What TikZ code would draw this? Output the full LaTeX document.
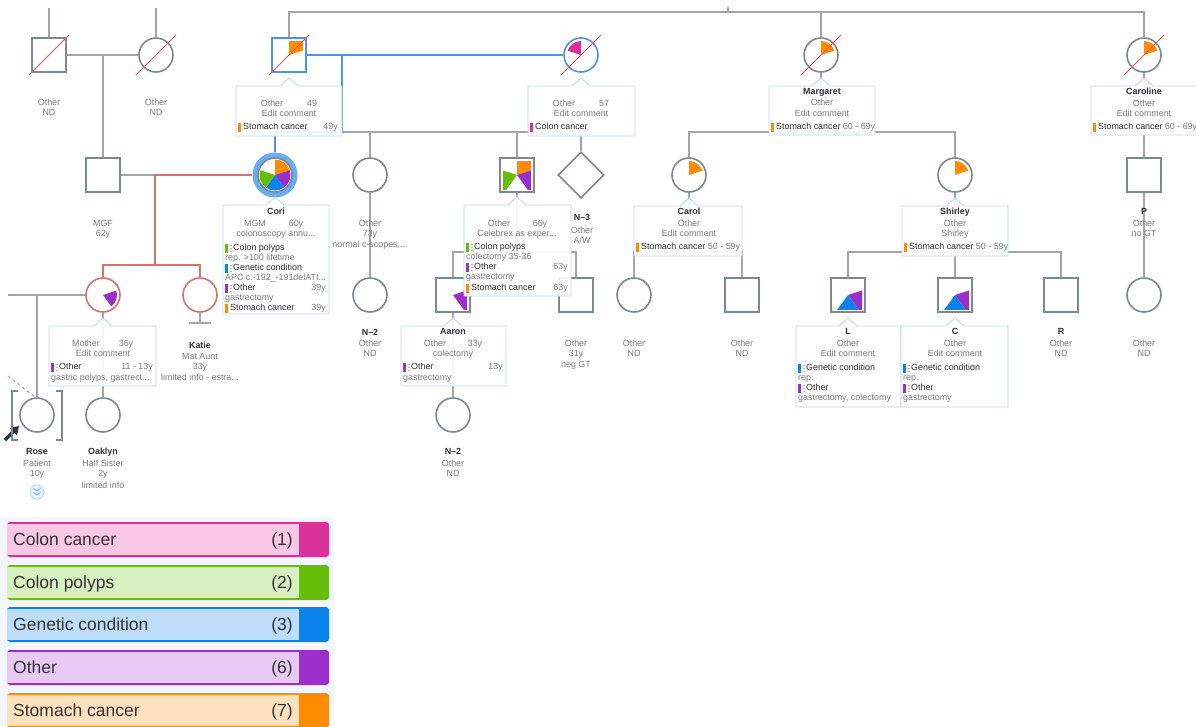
\documentclass[tikz,border=0pt]{standalone}
\usepackage{fontspec}
\setmainfont{Liberation Sans}
\usetikzlibrary{shapes.geometric,arrows.meta}
\definecolor{lnC}{HTML}{A2A6AA}
\definecolor{shC}{HTML}{7B8990}
\definecolor{redC}{HTML}{D9726A}
\definecolor{bluC}{HTML}{4C94E6}
\definecolor{haloC}{HTML}{68ADF0}
\definecolor{boxC}{HTML}{B9D9F3}
\definecolor{grayT}{HTML}{7A7A7A}
\definecolor{darkT}{HTML}{2E2E2E}
\definecolor{legT}{HTML}{333333}
\definecolor{strkC}{HTML}{FF4F4F}
\definecolor{icoC}{HTML}{B8B8B8}
\definecolor{arrC}{HTML}{2C373D}
\definecolor{ccC}{HTML}{DB3199}\definecolor{ccL}{HTML}{F7C7E5}
\definecolor{cpC}{HTML}{67BE0A}\definecolor{cpL}{HTML}{D8EFC1}
\definecolor{cgC}{HTML}{0A84EC}\definecolor{cgL}{HTML}{BEDDF8}
\definecolor{coC}{HTML}{9B2FCB}\definecolor{coL}{HTML}{E7C9F3}
\definecolor{csC}{HTML}{FF8C00}\definecolor{csL}{HTML}{FFE1BF}
\definecolor{legBG}{HTML}{F3F6FA}
\tikzset{
 conn/.style={draw=lnC, line width=1.4pt},
 redl/.style={draw=redC, line width=2.6pt},
 bluel/.style={draw=bluC, line width=2.6pt},
 sqs/.style={rectangle, draw=shC, line width=1.6pt, fill=white, minimum size=34pt, inner sep=0pt},
 cis/.style={circle, draw=shC, line width=1.6pt, fill=white, minimum size=34pt, inner sep=0pt},
 strike/.style={draw=strkC, line width=1pt},
 tipbox/.style={draw=boxC, line width=0.9pt, fill=white, fill opacity=0.9},
 tx/.style={font=\fontsize{8.9}{10}\selectfont, text=grayT, inner sep=0pt, anchor=mid},
 nm/.style={tx, font=\fontsize{8.9}{10}\selectfont\bfseries, text=darkT},
 dz/.style={tx, text=darkT, anchor=mid west},
 gl/.style={tx, anchor=mid west},
 ag/.style={tx, anchor=mid east},
 leg/.style={font=\fontsize{17.5}{20}\selectfont, text=legT, inner sep=0pt},
}
\newcommand\pdC[4]{\node[tx] (#1) at (#2,#3) {#4};}
\newcommand\pdN[4]{\node[nm] (#1) at (#2,#3) {#4};}
\newcommand\pdD[4]{\node[dz] (#1) at (#2,#3) {#4};}
\newcommand\pdL[4]{\node[gl] (#1) at (#2,#3) {#4};}
\newcommand\pdR[4]{\node[ag] (#1) at (#2,#3) {#4};}
\newcommand\pdBar[3]{\fill[#3] (#1,#2-4.5) rectangle (#1+3,#2+4.5);}
\newcommand\pdIco[2]{\draw[icoC, line width=0.8pt] (#1,#2-3) -- (#1+2.5,#2-3) (#1,#2) -- (#1+2.5,#2) (#1,#2+3) -- (#1+2.5,#2+3);}
\newcommand\pdBox[5]{\path[tipbox] (#1,#2) -- (#5-9,#2) -- (#5,#2-8) -- (#5+9,#2) -- (#3,#2) -- (#3,#4) -- (#1,#4) -- cycle;}
\newcommand\pdWc[6]{\fill[#6] (#1,#2) -- ++({-1*(#4)}:#3) arc[start angle={-1*(#4)}, end angle={-1*(#5)}, radius=#3] -- cycle;}
\newcommand\pdWs[5]{\begin{scope}\clip (#1-14,#2-14) rectangle (#1+14,#2+14);\fill[#5] (#1,#2) -- ++({-1*(#3)}:26) arc[start angle={-1*(#3)}, end angle={-1*(#4)}, radius=26] -- cycle;\end{scope}}
\newcommand\pdStrike[2]{\draw[strike] (#1-20,#2+20) -- (#1+20,#2-20);}
\newcommand\pdLeg[6]{%
 \fill[#4, rounded corners=3pt] (7,#1) rectangle (329,#1+35);
 \fill[#5] (7,#1+1.6) rectangle (299,#1+33.4);
 \node[leg, anchor=mid west] (#6a) at (13,#1+20.5) {#2};
 \node[leg, anchor=mid east] (#6b) at (293,#1+20.5) {#3};}
\begin{document}
\begin{tikzpicture}[x=1pt,y=-1pt]
\useasboundingbox (0,0) rectangle (1196,726);
\fill[white] (0,0) rectangle (1196,726);
% ---------- shapes ----------
\node[sqs] (ggf) at (49,55) {};
\node[cis] (ggm) at (156,55) {};
\node[sqs, draw=bluC] (gf2) at (289,55) {};
\node[cis, draw=bluC] (gm2) at (581,55) {};
\node[cis] (marg) at (821,55) {};
\node[cis] (carl) at (1144,55) {};
\node[sqs] (mgf) at (103,175) {};
\node[circle, fill=haloC, minimum size=45pt, inner sep=0pt] (corih) at (275,175) {};
\node[cis] (cori) at (275,175) {};
\node[cis] (u73) at (370,175) {};
\node[sqs] (o66) at (517,175) {};
\node[diamond, draw=shC, line width=1.6pt, fill=white, minimum width=46pt, minimum height=46pt, inner sep=0pt] (n3) at (581,175) {};
\node[cis] (carol) at (689,175) {};
\node[cis] (shir) at (955,175) {};
\node[sqs] (pp) at (1144,175) {};
\node[cis, draw=redC] (moth) at (103,295) {};
\node[cis, draw=redC] (kat) at (200,295) {};
\node[cis] (n2a) at (370,295) {};
\node[sqs] (aar) at (453,295) {};
\node[sqs] (o31) at (576,295) {};
\node[cis] (c1) at (634,295) {};
\node[sqs] (c2) at (742,295) {};
\node[sqs] (ll) at (848,295) {};
\node[sqs] (cc) at (955,295) {};
\node[sqs] (rr) at (1061,295) {};
\node[cis] (pc) at (1144,295) {};
\node[cis] (rose) at (37,415) {};
\node[cis] (oak) at (103,415) {};
\node[cis] (n2b) at (453,415) {};
% ---------- coordinates ----------
\coordinate (ggfT) at (49,8);
\coordinate (ggmT) at (156,8);
\coordinate (m1) at (103,55);
\coordinate (tr) at (1144,12);
\coordinate (tm) at (821,12);
\coordinate (tk) at (728,12);
\coordinate (tk2) at (728,7);
\coordinate (rk) at (155,175);
\coordinate (rs) at (155,265);
\coordinate (b1) at (342,55);
\coordinate (b2) at (342,132);
\coordinate (s1e) at (581,132);
\coordinate (c66) at (517,252);
\coordinate (cm) at (821,132);
\coordinate (cc1) at (689,252);
\coordinate (sc1) at (955,252);
\coordinate (mL) at (8,295);
\coordinate (rj) at (37,295);
\coordinate (kb) at (200,323);
\coordinate (kb1) at (189,323);
\coordinate (kb2) at (211,323);
\coordinate (dA) at (8,376);
\coordinate (dB) at (35,397);
\coordinate (pa1) at (5,440);
\coordinate (pa2) at (19,426);
% ---------- connectors ----------
\draw[conn] (ggf.north) -- (ggfT);
\draw[conn] (ggm.north) -- (ggmT);
\draw[conn] (ggf.east) -- (ggm.west);
\draw[conn] (m1) -- (mgf.north);
\draw[conn] (gf2.north) |- (tr) -- (carl.north);
\draw[conn] (marg.north) -- (tm);
\draw[conn] (tk) -- (tk2);
\draw[conn] (mgf.east) -- (rk);
\draw[redl] (rk) -- (corih.west);
\draw[redl] (rk) -- (rs);
\draw[redl] (moth.north) |- (rs) -| (kat.north);
\draw[conn] (b2) -- (s1e) -- (n3.north);
\draw[conn] (u73.north) -- (u73.north |- b2);
\draw[conn] (o66.north) -- (o66.north |- b2);
\draw[bluel] (gf2.east) -- (gm2.west);
\draw[bluel] (b1) -- (b2) -| (corih.north);
\draw[conn] (u73.south) -- (n2a.north);
\draw[conn] (o66.south) -- (c66);
\draw[conn] (aar.north) |- (c66) -| (o31.north);
\draw[conn] (aar.south) -- (n2b.north);
\draw[conn] (marg.south) -- (cm);
\draw[conn] (carol.north) |- (cm) -| (shir.north);
\draw[conn] (carol.south) -- (cc1);
\draw[conn] (c1.north) |- (cc1) -| (c2.north);
\draw[conn] (shir.south) -- (sc1) -- (cc.north);
\draw[conn] (ll.north) |- (sc1) -| (rr.north);
\draw[conn] (carl.south) -- (pp.north);
\draw[conn] (pp.south) -- (pc.north);
\draw[conn] (mL) -- (moth.west);
\draw[conn] (rj) -- (rose.north);
\draw[conn] (moth.south) -- (oak.north);
\draw[conn] (kat.south) -- (kb);
\draw[conn] (kb1) -- (kb2);
\draw[lnC, dashed, line width=1pt] (dA) -- (dB);
\draw[-{Triangle[length=8pt,width=10pt]}, line width=3.5pt, arrC] (pa1) -- (pa2);
% brackets
\draw[shC, line width=1.5pt] (18,391) -- (12,391) -- (12,440) -- (18,440);
\draw[shC, line width=1.5pt] (56,391) -- (62,391) -- (62,440) -- (56,440);
% ---------- pies ----------
\pdWs{289}{55}{90}{18}{csC}
\pdWc{581}{55}{14}{162}{90}{ccC}
\pdWc{821}{55}{14}{90}{18}{csC}
\pdWc{1144}{55}{14}{90}{18}{csC}
\pdWc{275}{175}{15.5}{90}{18}{csC}
\pdWc{275}{175}{15.5}{18}{-54}{coC}
\pdWc{275}{175}{15.5}{-54}{-126}{cgC}
\pdWc{275}{175}{15.5}{-126}{-198}{cpC}
\pdWs{517}{175}{90}{18}{csC}
\pdWs{517}{175}{18}{-54}{coC}
\pdWs{517}{175}{-126}{-198}{cpC}
\pdWc{689}{175}{14}{90}{18}{csC}
\pdWc{955}{175}{14}{90}{18}{csC}
\pdWc{103}{295}{14}{18}{-54}{coC}
\pdWs{453}{295}{18}{-54}{coC}
\pdWs{848}{295}{18}{-54}{coC}
\pdWs{848}{295}{-54}{-126}{cgC}
\pdWs{955}{295}{18}{-54}{coC}
\pdWs{955}{295}{-54}{-126}{cgC}
% strikes
\pdStrike{49}{55}
\pdStrike{156}{55}
\pdStrike{289}{55}
\pdStrike{581}{55}
\pdStrike{821}{55}
\pdStrike{1144}{55}
% rose icon
\node[circle, draw=boxC, fill=cgL!40, line width=0.8pt, minimum size=14pt, inner sep=0pt] (roseic) at (37,492) {};
\draw[bluC!70, line width=0.9pt] (33.5,488.5) -- (37,491) -- (40.5,488.5) (33.5,492.5) -- (37,495) -- (40.5,492.5);
% ---------- free labels ----------
\pdC{ggfA}{49}{103}{Other} \pdC{ggfB}{49}{113}{ND}
\pdC{ggmA}{156}{103}{Other} \pdC{ggmB}{156}{113}{ND}
\pdC{mgfA}{103}{224}{MGF} \pdC{mgfB}{103}{234}{62y}
\pdC{u7A}{370}{224}{Other} \pdC{u7B}{370}{234}{73y} \pdC{u7C}{370}{245}{normal c-scopes,...}
\pdN{n3A}{582}{218}{N–3} \pdC{n3B}{582}{231}{Other} \pdC{n3C}{582}{241}{A/W}
\pdN{ppA}{1144}{212}{P} \pdC{ppB}{1144}{224}{Other} \pdC{ppC}{1144}{234}{no GT}
\pdN{kaA}{200}{346}{Katie} \pdC{kaB}{200}{357}{Mat Aunt} \pdC{kaC}{200}{367}{33y} \pdC{kaD}{200}{378}{limited info - estra...}
\pdN{naA}{370}{333}{N–2} \pdC{naB}{370}{344}{Other} \pdC{naC}{370}{354}{ND}
\pdC{o3A}{576}{344}{Other} \pdC{o3B}{576}{354}{31y} \pdC{o3C}{576}{365}{neg GT}
\pdC{c1A}{634}{344}{Other} \pdC{c1B}{634}{354}{ND}
\pdC{c2A}{742}{344}{Other} \pdC{c2B}{742}{354}{ND}
\pdN{rrA}{1061}{332}{R} \pdC{rrB}{1061}{344}{Other} \pdC{rrC}{1061}{354}{ND}
\pdC{pcA}{1144}{344}{Other} \pdC{pcB}{1144}{354}{ND}
\pdN{roA}{37}{452}{Rose} \pdC{roB}{37}{464}{Patient} \pdC{roC}{37}{474}{10y}
\pdN{okA}{103}{452}{Oaklyn} \pdC{okB}{103}{464}{Half Sister} \pdC{okC}{103}{474}{2y} \pdC{okD}{103}{486}{limited info}
\pdN{nbA}{453}{452}{N–2} \pdC{nbB}{453}{464}{Other} \pdC{nbC}{453}{474}{ND}
% ---------- tooltip boxes ----------
\pdBox{236}{86}{342}{136}{289}
\pdC{gfA}{272}{104}{Other} \pdC{gfB}{312}{104}{49} \pdC{gfC}{289}{114}{Edit comment}
\pdBar{238}{127}{csC} \pdD{gfD}{243}{127}{Stomach cancer} \pdR{gfE}{338}{127}{49y}
\pdBox{528}{86}{635}{136}{581}
\pdC{gmA}{564}{104}{Other} \pdC{gmB}{604}{104}{57} \pdC{gmC}{581}{114}{Edit comment}
\pdBar{530}{127}{ccC} \pdD{gmD}{535}{127}{Colon cancer}
\pdBox{769}{86}{875}{135}{821}
\pdN{mgA}{822}{92}{Margaret} \pdC{mgB}{822}{103}{Other} \pdC{mgC}{822}{114}{Edit comment}
\pdBar{771}{127}{csC} \pdD{mgD}{776}{127}{Stomach cancer \textcolor{grayT}{60 - 69y}}
\pdBox{1091}{86}{1200}{135}{1144}
\pdN{caA}{1144}{92}{Caroline} \pdC{caB}{1144}{104}{Other} \pdC{caC}{1144}{114}{Edit comment}
\pdBar{1093}{127}{csC} \pdD{caD}{1098}{127}{Stomach cancer \textcolor{grayT}{60 - 69y}}
% Cori
\pdBox{223}{205}{329}{314}{275}
\pdN{coA}{276}{212}{Cori} \pdC{coB}{255}{224}{MGM} \pdC{coC}{296}{224}{60y} \pdC{coD}{276}{234}{colonoscopy annu...}
\pdBar{225}{248}{cpC} \pdIco{229.5}{248} \pdD{coE}{233}{248}{Colon polyps}
\pdL{coF}{225}{258}{rep. >100 lifetime}
\pdBar{225}{268}{cgC} \pdIco{229.5}{268} \pdD{coG}{233}{268}{Genetic condition}
\pdL{coH}{225}{278}{APC c.-192\_-191delATI...}
\pdBar{225}{288}{coC} \pdIco{229.5}{288} \pdD{coI}{233}{288}{Other} \pdR{coJ}{326}{288}{39y}
\pdL{coK}{225}{298}{gastrectomy}
\pdBar{225}{308}{csC} \pdD{coL}{230}{308}{Stomach cancer} \pdR{coM}{326}{308}{39y}
% 66y
\pdBox{464}{205}{571}{296}{517}
\pdC{o6A}{499}{224}{Other} \pdC{o6B}{540}{224}{66y} \pdC{o6C}{517}{234}{Celebrex as exper...}
\pdBar{466}{247}{cpC} \pdIco{470.5}{247} \pdD{o6D}{474}{247}{Colon polyps}
\pdL{o6E}{466}{257}{colectomy 35-36}
\pdBar{466}{267}{coC} \pdIco{470.5}{267} \pdD{o6F}{474}{267}{Other} \pdR{o6G}{568}{267}{63y}
\pdL{o6H}{466}{277}{gastrectomy}
\pdBar{466}{288}{csC} \pdD{o6I}{471}{288}{Stomach cancer} \pdR{o6J}{568}{288}{63y}
% Carol
\pdBox{634}{206}{742}{256}{689}
\pdN{crA}{689}{212}{Carol} \pdC{crB}{689}{224}{Other} \pdC{crC}{689}{234}{Edit comment}
\pdBar{636}{247}{csC} \pdD{crD}{641}{247}{Stomach cancer \textcolor{grayT}{50 - 59y}}
% Shirley
\pdBox{902}{206}{1008}{256}{955}
\pdN{shA}{955}{212}{Shirley} \pdC{shB}{955}{224}{Other} \pdC{shC}{955}{234}{Shirley}
\pdBar{904}{247}{csC} \pdD{shD}{909}{247}{Stomach cancer \textcolor{grayT}{50 - 59y}}
% Mother
\pdBox{49}{326}{156}{386}{103}
\pdC{moA}{86}{344}{Mother} \pdC{moB}{126}{344}{36y} \pdC{moC}{103}{354}{Edit comment}
\pdBar{51}{367}{coC} \pdIco{55.5}{367} \pdD{moD}{59}{367}{Other} \pdR{moE}{153}{367}{11 - 13y}
\pdL{moF}{51}{378}{gastric polyps, gastrect...}
% Aaron
\pdBox{401}{326}{506}{386}{453}
\pdN{aaA}{453}{332}{Aaron} \pdC{aaB}{435}{344}{Other} \pdC{aaC}{475}{344}{33y} \pdC{aaD}{453}{354}{colectomy}
\pdBar{403}{367}{coC} \pdIco{407.5}{367} \pdD{aaE}{411}{367}{Other} \pdR{aaF}{503}{367}{13y}
\pdL{aaG}{403}{378}{gastrectomy}
% L
\pdBox{796}{326}{901}{407}{848}
\pdN{lA}{848}{332}{L} \pdC{lB}{848}{344}{Other} \pdC{lC}{848}{354}{Edit comment}
\pdBar{798}{368}{cgC} \pdIco{802.5}{368} \pdD{lD}{806}{368}{Genetic condition}
\pdL{lE}{798}{378}{rep.}
\pdBar{798}{388}{coC} \pdIco{802.5}{388} \pdD{lF}{806}{388}{Other}
\pdL{lG}{798}{398}{gastrectomy, colectomy}
% C
\pdBox{901}{326}{1008}{407}{955}
\pdN{cA}{955}{332}{C} \pdC{cB}{955}{344}{Other} \pdC{cC}{955}{354}{Edit comment}
\pdBar{903}{368}{cgC} \pdIco{907.5}{368} \pdD{cD}{911}{368}{Genetic condition}
\pdL{cE}{903}{378}{rep.}
\pdBar{903}{388}{coC} \pdIco{907.5}{388} \pdD{cF}{911}{388}{Other}
\pdL{cG}{903}{398}{gastrectomy}
% ---------- legend ----------
\fill[legBG] (0,517) rectangle (334,726);
\pdLeg{522}{Colon cancer}{(1)}{ccC}{ccL}{lg1}
\pdLeg{565}{Colon polyps}{(2)}{cpC}{cpL}{lg2}
\pdLeg{607}{Genetic condition}{(3)}{cgC}{cgL}{lg3}
\pdLeg{650}{Other}{(6)}{coC}{coL}{lg4}
\pdLeg{693}{Stomach cancer}{(7)}{csC}{csL}{lg5}
\end{tikzpicture}
\end{document}
